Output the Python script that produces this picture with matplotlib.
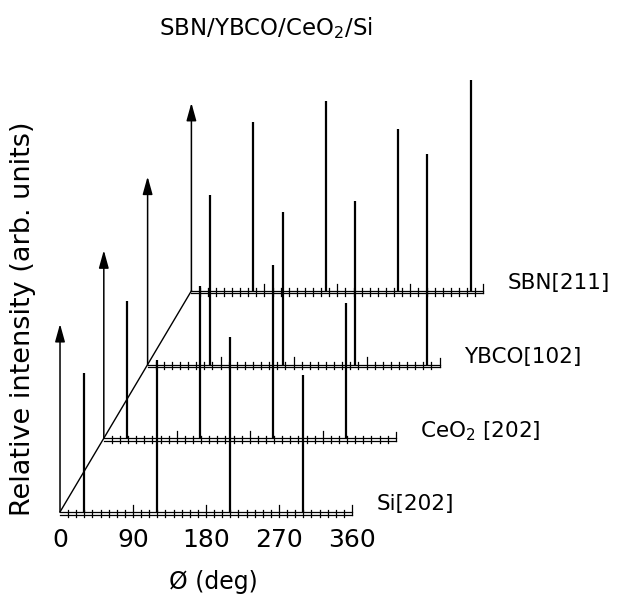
import matplotlib
matplotlib.use("Agg")
import matplotlib.pyplot as plt
import numpy as np

# phi-scan peak positions (deg) and heights (arb. units, arrow = 100)
phi_si = [30, 120, 210, 300]
int_si = [74, 81, 93, 73]
phi_ceo2 = [29, 119, 209, 299]
int_ceo2 = [73, 81, 92, 72]
phi_ybco = [77, 167, 256, 345]
int_ybco = [90, 81, 87, 112]
phi_sbn = [76, 166, 255, 345]
int_sbn = [90, 101, 86, 112]

layer_names = ["Si[202]", "CeO$_2$ [202]", "YBCO[102]", "SBN[211]"]
tick_values = [0, 90, 180, 270, 360]

# pseudo-3D offsets between stacked scans
dx, dy = 54, 39.2
arrow_len = 100

layers = [(phi_si, int_si), (phi_ceo2, int_ceo2), (phi_ybco, int_ybco), (phi_sbn, int_sbn)]

fig = plt.figure(figsize=(6.18, 5.99), dpi=100)
ax = fig.add_axes([0, 0, 1, 1])
ax.set_xlim(-74, 688)
ax.set_ylim(-46.3, 272.3)
ax.axis("off")

for k, (phis, ints) in enumerate(layers):
    x0, y0 = k * dx, k * dy
    # double-line baseline
    ax.plot([x0, x0 + 360], [y0, y0], color="k", lw=0.9)
    ax.plot([x0, x0 + 360], [y0 - 1.4, y0 - 1.4], color="k", lw=0.9)
    # ticks every 10 deg, longer at 90 deg multiples
    for t in range(10, 360, 10):
        top = 3.8 if t % 90 == 0 else 1.3
        ax.plot([x0 + t, x0 + t], [y0 - 2.6, y0 + top], color="k", lw=0.9)
    ax.plot([x0 + 360, x0 + 360], [y0 - 1.4, y0 + 3.5], color="k", lw=0.9)
    # intensity arrow
    ax.annotate("", xy=(x0, y0 + arrow_len), xytext=(x0, y0),
                arrowprops=dict(arrowstyle="-|>,head_length=0.9,head_width=0.25",
                                color="k", lw=1.1, mutation_scale=12,
                                shrinkA=0, shrinkB=0))
    # peaks
    ax.vlines(np.array(phis) + x0, y0, y0 + np.array(ints), color="k", lw=1.6)
    ax.text(x0 + 360 + 30, y0 + 4, layer_names[k], fontsize=15.5,
            ha="left", va="center")

# diagonal guide through the baseline origins
ax.plot([0, 3 * dx], [0, 3 * dy], color="k", lw=1.0)

for t in tick_values:
    ax.text(t, -15, str(t), fontsize=18, ha="center", va="center")

ax.text(189, -37, "Ø (deg)", fontsize=17, ha="center", va="center")
fig.text(23 / 618, 1 - 319 / 599, "Relative intensity (arb. units)", fontsize=19.5,
         rotation=90, ha="center", va="center")
fig.text(266 / 618, 1 - 28 / 599, "SBN/YBCO/CeO$_2$/Si", fontsize=16.5,
         ha="center", va="center")

fig.savefig("out.png", dpi=100)
